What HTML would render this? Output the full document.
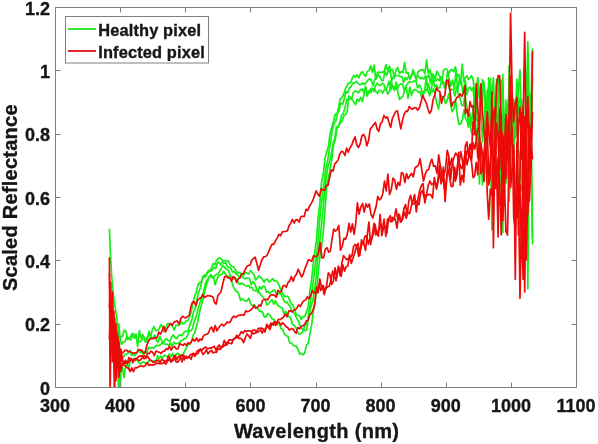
<!DOCTYPE html>
<html><head><meta charset="utf-8"><style>
html,body{margin:0;padding:0;background:#fff;width:598px;height:444px;overflow:hidden}
svg{display:block}
text{font-family:"Liberation Sans",sans-serif;font-weight:bold;fill:#161616;stroke:#161616;stroke-width:0.35px}
.t{filter:grayscale(1)}
</style></head><body>
<svg width="598" height="444" viewBox="0 0 598 444">
<rect width="598" height="444" fill="#fff"/>
<defs><clipPath id="c"><rect x="55" y="7" width="522" height="381"/></clipPath></defs>
<g clip-path="url(#c)">
<polyline points="109.4,228.7 110.4,254.0 111.7,276.2 113.0,292.0 114.3,301.5 115.6,311.0 116.9,317.3 117.8,355.3 118.8,323.7 120.1,339.5 121.8,344.2 123.5,341.8 125.2,341.5 126.9,336.0 128.6,338.6 130.3,336.9 132.0,333.6 133.7,333.7 135.4,335.6 137.1,340.0 138.8,341.4 140.4,341.7 142.1,339.4 143.8,337.9 145.5,342.2 147.2,340.8 148.9,331.0 150.6,337.2 152.3,329.6 154.0,326.6 155.7,330.6 157.4,330.5 159.1,329.1 160.8,324.6 162.5,326.8 164.1,331.6 165.8,327.5 167.5,323.6 169.2,323.7 170.9,324.5 172.6,326.5 174.3,330.1 176.0,325.1 177.7,325.7 179.4,324.9 181.1,321.5 182.8,323.9 184.5,323.3 186.2,321.2 187.9,320.3 189.5,317.0 191.2,312.1 192.9,303.1 194.6,296.1 196.3,292.1 198.0,284.6 199.7,282.6 201.4,281.7 203.1,276.1 204.8,274.8 206.5,275.2 208.2,270.7 209.9,270.3 211.6,267.9 213.3,263.4 214.9,264.7 216.6,260.1 218.3,258.3 220.0,257.9 221.7,259.8 223.4,260.3 225.1,260.6 226.8,260.9 228.5,261.2 230.2,265.0 231.9,266.6 233.6,266.7 235.3,269.7 237.0,272.7 238.7,272.3 240.3,273.2 242.0,276.3 243.7,274.8 245.4,272.3 247.1,273.2 248.8,274.0 250.5,270.5 252.2,272.5 253.9,274.8 255.6,279.8 257.3,278.2 259.0,276.0 260.7,277.5 262.4,279.1 264.1,282.2 265.7,279.5 267.4,279.2 269.1,282.0 270.8,280.9 272.5,278.6 274.2,280.8 275.9,280.9 277.6,281.9 279.3,286.1 281.0,290.3 282.7,293.8 284.4,296.1 286.1,296.8 287.8,296.2 289.5,299.4 291.1,303.7 292.8,304.8 294.5,309.0 296.2,314.5 297.9,315.3 299.6,315.8 301.3,319.4 303.0,316.5 304.7,316.7 306.4,311.7 308.1,307.3 309.8,291.9 311.5,280.7 313.2,264.6 314.8,252.2 316.5,239.8 318.2,217.4 319.9,202.9 321.6,181.9 323.3,173.5 325.0,158.1 326.7,151.7 328.4,146.3 330.1,133.5 331.8,127.2 333.5,121.8 335.2,114.3 336.9,113.7 338.6,107.7 340.2,98.7 341.9,97.9 343.6,94.4 345.3,89.2 347.0,85.8 348.7,82.9 350.4,83.0 352.1,78.6 353.8,75.4 355.5,77.3 357.2,74.6 358.9,77.9 360.6,73.3 362.3,71.6 364.0,74.3 365.6,76.4 367.3,71.3 369.0,70.7 370.7,65.8 372.4,72.2 374.1,65.2 375.8,79.2 377.5,72.0 379.2,72.6 380.9,72.2 382.6,72.6 384.3,70.8 386.0,64.9 387.7,70.9 389.4,66.2 391.0,70.5 392.7,69.6 394.4,78.1 396.1,69.5 397.8,67.5 399.5,73.4 401.2,71.6 402.9,72.5 404.6,62.4 406.3,73.2 408.0,72.4 409.7,79.4 411.4,75.6 413.1,69.5 414.8,74.9 416.4,80.4 418.1,71.7 419.8,70.4 421.5,69.9 423.2,69.6 424.9,73.6 426.6,59.8 428.3,73.7 430.0,69.7 431.7,77.2 433.4,74.6 435.1,78.9 436.8,71.2 438.5,74.2 440.1,77.2 441.8,82.3 443.5,70.1 445.2,68.9 446.9,69.0 448.6,74.0 450.3,70.3 452.0,69.4 453.7,71.8 455.4,67.0 457.1,76.1 458.8,74.4 460.5,84.5 462.2,64.1 463.9,82.1 465.3,77.7 466.9,75.7 468.4,79.4 470.0,78.1 471.5,75.7 473.1,79.4 474.7,92.8 476.2,120.7 477.8,84.1 479.4,97.2 480.9,101.6 482.5,79.7 484.0,83.0 485.6,135.6 487.2,90.0 488.7,105.7 490.3,78.5 491.9,98.4 493.4,77.8 495.0,121.3 496.5,113.6 498.1,119.9 499.7,107.8 501.2,111.0 502.8,74.3 504.4,143.1 505.9,100.2 507.5,152.6 509.1,165.1 510.6,130.5 512.2,169.8 513.7,99.3 515.3,137.9 516.9,129.7 518.4,90.2 520.0,69.9 521.6,130.8 523.1,195.1 524.7,125.6 526.2,108.1 527.8,41.8 529.4,110.1 530.9,149.4 532.5,77.5" fill="none" stroke="#14ee14" stroke-width="1.7" stroke-linejoin="round"/>
<polyline points="110.0,292.0 111.0,317.3 112.3,304.7 113.6,330.0 114.9,323.7 116.2,349.0 117.5,336.3 118.5,393.3 119.5,342.7 120.8,336.3 122.5,336.4 124.2,330.3 125.9,331.2 127.5,339.6 129.2,338.8 130.9,340.1 132.6,335.1 134.3,338.2 136.0,334.4 137.7,346.7 139.4,330.5 141.1,338.4 142.8,334.7 144.5,338.6 146.2,339.7 147.9,335.7 149.6,334.2 151.3,338.4 152.9,338.0 154.6,335.0 156.3,340.1 158.0,342.2 159.7,336.5 161.4,339.8 163.1,343.3 164.8,340.0 166.5,338.8 168.2,340.5 169.9,341.1 171.6,337.1 173.3,335.0 175.0,337.6 176.7,338.7 178.3,336.1 180.0,334.7 181.7,335.8 183.4,333.2 185.1,331.3 186.8,331.3 188.5,329.8 190.2,323.7 191.9,319.6 193.6,311.7 195.3,308.6 197.0,299.4 198.7,292.0 200.4,287.7 202.1,280.0 203.7,276.9 205.4,276.9 207.1,272.3 208.8,272.1 210.5,271.1 212.2,270.0 213.9,267.4 215.6,268.7 217.3,263.3 219.0,262.1 220.7,265.1 222.4,261.6 224.1,263.2 225.8,262.8 227.5,266.5 229.1,267.5 230.8,268.4 232.5,272.0 234.2,271.5 235.9,274.1 237.6,274.5 239.3,277.4 241.0,275.6 242.7,276.9 244.4,278.8 246.1,278.2 247.8,278.2 249.5,278.5 251.2,284.6 252.8,281.4 254.5,283.4 256.2,287.5 257.9,292.9 259.6,286.5 261.3,289.0 263.0,286.3 264.7,286.3 266.4,292.2 268.1,291.4 269.8,293.8 271.5,291.8 273.2,290.3 274.9,290.1 276.6,296.1 278.2,293.5 279.9,293.4 281.6,295.3 283.3,298.9 285.0,302.4 286.7,302.1 288.4,304.1 290.1,306.7 291.8,310.2 293.5,312.2 295.2,315.2 296.9,318.3 298.6,321.4 300.3,326.8 302.0,329.0 303.6,329.3 305.3,330.8 307.0,329.1 308.7,312.4 310.4,302.2 312.1,289.5 313.8,277.3 315.5,263.3 317.2,250.8 318.9,230.5 320.6,209.8 322.3,197.7 324.0,183.3 325.7,169.0 327.4,162.2 329.0,151.4 330.7,141.1 332.4,129.5 334.1,123.3 335.8,121.3 337.5,113.5 339.2,110.1 340.9,103.1 342.6,104.2 344.3,98.7 346.0,91.5 347.7,92.8 349.4,88.3 351.1,86.6 352.8,83.2 354.4,83.2 356.1,81.3 357.8,83.3 359.5,84.6 361.2,84.3 362.9,83.0 364.6,84.7 366.3,82.2 368.0,80.1 369.7,78.7 371.4,80.6 373.1,85.9 374.8,79.2 376.5,78.0 378.2,74.8 379.8,76.3 381.5,80.4 383.2,80.6 384.9,71.0 386.6,75.3 388.3,71.5 390.0,70.4 391.7,80.6 393.4,76.3 395.1,76.0 396.8,75.5 398.5,75.5 400.2,76.6 401.9,76.6 403.5,82.4 405.2,77.6 406.9,79.6 408.6,76.4 410.3,78.4 412.0,74.6 413.7,73.8 415.4,75.7 417.1,75.7 418.8,76.6 420.5,78.7 422.2,77.7 423.9,79.2 425.6,75.7 427.3,77.3 428.9,75.0 430.6,83.3 432.3,73.7 434.0,81.1 435.7,81.1 437.4,78.8 439.1,80.6 440.8,76.6 442.5,80.9 444.2,83.5 445.9,82.6 447.6,72.0 449.3,79.0 451.0,86.0 452.7,80.2 454.3,89.3 456.0,71.3 457.7,90.4 459.4,79.5 461.1,79.6 462.8,92.7 464.5,84.8 465.3,80.6 466.9,94.6 468.4,88.1 470.0,87.2 471.5,90.4 473.1,87.8 474.7,107.5 476.2,92.7 477.8,77.7 479.4,91.9 480.9,119.1 482.5,95.6 484.0,83.0 485.6,100.9 487.2,124.7 488.7,77.8 490.3,148.1 491.9,98.2 493.4,112.0 495.0,152.5 496.5,79.3 498.1,103.1 499.7,157.5 501.2,95.7 502.8,132.1 504.4,193.8 505.9,144.6 507.5,107.8 509.1,95.7 510.6,112.1 512.2,116.5 513.7,102.0 515.3,127.6 516.9,79.0 518.4,113.6 520.0,108.6 521.6,99.9 523.1,167.3 524.7,152.1 526.2,74.2 527.8,288.8 529.4,133.6 530.9,107.8 532.5,48.2" fill="none" stroke="#14ee14" stroke-width="1.7" stroke-linejoin="round"/>
<polyline points="110.4,317.3 111.7,339.5 113.0,323.7 114.3,349.0 115.6,339.5 116.9,361.7 118.2,349.0 119.5,371.2 120.1,393.3 121.4,358.5 123.1,357.5 124.8,354.5 126.5,354.1 128.2,353.1 129.9,350.4 131.6,355.6 133.3,354.3 135.0,355.5 136.7,353.0 138.4,350.8 140.1,352.5 141.7,351.2 143.4,355.4 145.1,351.1 146.8,352.7 148.5,347.3 150.2,348.6 151.9,347.5 153.6,348.3 155.3,346.2 157.0,345.2 158.7,345.7 160.4,344.7 162.1,342.8 163.8,343.7 165.5,344.2 167.1,344.1 168.8,345.3 170.5,342.8 172.2,346.4 173.9,342.1 175.6,344.0 177.3,343.1 179.0,343.6 180.7,340.9 182.4,340.3 184.1,338.6 185.8,338.3 187.5,335.6 189.2,330.9 190.9,330.7 192.5,328.6 194.2,321.3 195.9,317.6 197.6,310.7 199.3,304.4 201.0,299.4 202.7,295.8 204.4,287.5 206.1,281.6 207.8,279.0 209.5,276.4 211.2,274.7 212.9,277.8 214.6,275.8 216.2,274.4 217.9,274.2 219.6,271.4 221.3,268.7 223.0,265.4 224.7,267.5 226.4,269.0 228.1,269.7 229.8,273.9 231.5,277.4 233.2,278.6 234.9,278.2 236.6,279.4 238.3,283.2 240.0,284.4 241.6,283.0 243.3,283.9 245.0,285.5 246.7,286.0 248.4,285.7 250.1,287.8 251.8,287.2 253.5,290.1 255.2,290.9 256.9,289.6 258.6,291.2 260.3,294.1 262.0,296.0 263.7,298.0 265.4,300.2 267.0,304.9 268.7,303.8 270.4,300.8 272.1,299.8 273.8,304.1 275.5,300.8 277.2,304.9 278.9,306.2 280.6,307.2 282.3,308.2 284.0,313.5 285.7,311.4 287.4,314.0 289.1,316.7 290.8,318.2 292.4,324.3 294.1,325.4 295.8,327.5 297.5,331.9 299.2,334.3 300.9,333.4 302.6,332.2 304.3,326.8 306.0,324.6 307.7,320.1 309.4,313.7 311.1,306.1 312.8,301.3 314.5,288.8 316.2,277.1 317.8,256.5 319.5,243.8 321.2,228.2 322.9,210.9 324.6,192.2 326.3,177.0 328.0,166.3 329.7,161.0 331.4,153.5 333.1,143.1 334.8,138.2 336.5,126.5 338.2,127.5 339.9,121.7 341.6,115.2 343.2,113.8 344.9,108.6 346.6,99.6 348.3,100.2 350.0,98.7 351.7,98.4 353.4,92.4 355.1,91.0 356.8,91.5 358.5,92.8 360.2,90.0 361.9,89.0 363.6,92.0 365.3,87.0 366.9,96.2 368.6,93.0 370.3,89.2 372.0,88.2 373.7,91.6 375.4,86.0 377.1,83.2 378.8,85.0 380.5,85.4 382.2,83.2 383.9,84.6 385.6,89.9 387.3,86.5 389.0,81.3 390.7,89.6 392.3,85.4 394.0,86.9 395.7,88.6 397.4,88.9 399.1,84.9 400.8,84.1 402.5,84.0 404.2,90.1 405.9,85.9 407.6,83.7 409.3,81.5 411.0,82.3 412.7,81.7 414.4,80.8 416.1,81.9 417.7,88.0 419.4,85.0 421.1,88.1 422.8,94.9 424.5,92.5 426.2,77.3 427.9,90.7 429.6,95.8 431.3,88.9 433.0,79.7 434.7,86.9 436.4,85.0 438.1,88.3 439.8,87.6 441.5,81.2 443.1,83.6 444.8,88.1 446.5,83.6 448.2,83.4 449.9,90.9 451.6,89.2 453.3,90.0 455.0,95.9 456.7,86.6 458.4,94.8 460.1,98.3 461.8,105.3 463.5,105.6 465.2,91.8 465.3,98.1 466.9,106.8 468.4,127.3 470.0,113.4 471.5,124.7 473.1,107.7 474.7,96.4 476.2,114.3 477.8,89.5 479.4,96.4 480.9,109.6 482.5,142.5 484.0,119.6 485.6,159.4 487.2,99.6 488.7,120.1 490.3,89.9 491.9,116.2 493.4,186.2 495.0,106.5 496.5,98.3 498.1,78.7 499.7,160.6 501.2,160.2 502.8,123.9 504.4,168.7 505.9,183.0 507.5,172.3 509.1,66.2 510.6,154.8 512.2,172.0 513.7,148.4 515.3,130.4 516.9,85.5 518.4,97.6 520.0,103.1 521.6,129.9 523.1,126.0 524.7,160.0 526.2,200.3 527.8,71.8 529.4,152.8 530.9,94.7 532.5,244.5" fill="none" stroke="#14ee14" stroke-width="1.7" stroke-linejoin="round"/>
<polyline points="110.7,330.0 112.3,355.3 113.6,342.7 114.9,368.0 116.2,355.3 117.5,377.5 118.8,361.7 120.1,374.3 122.1,364.8 124.0,377.5 125.3,368.0 127.0,362.2 128.7,369.3 130.4,359.3 132.1,360.3 133.8,358.5 135.5,360.8 137.2,358.7 138.9,362.7 140.6,364.2 142.3,362.0 144.0,362.1 145.7,363.5 147.3,363.1 149.0,360.9 150.7,360.2 152.4,361.6 154.1,360.6 155.8,362.3 157.5,355.6 159.2,358.9 160.9,356.2 162.6,357.8 164.3,355.2 166.0,355.8 167.7,356.9 169.4,354.0 171.1,357.2 172.7,353.2 174.4,357.6 176.1,354.5 177.8,353.2 179.5,354.5 181.2,355.3 182.9,354.4 184.6,351.8 186.3,347.4 188.0,345.2 189.7,343.8 191.4,341.8 193.1,335.3 194.8,333.1 196.5,326.2 198.1,320.1 199.8,310.9 201.5,304.8 203.2,297.6 204.9,290.9 206.6,284.2 208.3,279.4 210.0,275.5 211.7,277.5 213.4,276.6 215.1,284.7 216.8,279.6 218.5,276.1 220.2,274.7 221.9,274.4 223.5,271.3 225.2,273.8 226.9,275.4 228.6,277.2 230.3,275.8 232.0,282.2 233.7,287.6 235.4,290.5 237.1,291.5 238.8,294.0 240.5,300.3 242.2,298.8 243.9,300.1 245.6,301.3 247.2,300.7 248.9,298.2 250.6,303.4 252.3,305.7 254.0,304.7 255.7,306.9 257.4,308.1 259.1,310.9 260.8,311.4 262.5,312.1 264.2,316.8 265.9,317.2 267.6,313.7 269.3,314.5 271.0,317.1 272.6,319.4 274.3,319.7 276.0,323.6 277.7,324.6 279.4,323.9 281.1,328.7 282.8,329.5 284.5,334.2 286.2,335.7 287.9,336.2 289.6,342.6 291.3,343.1 293.0,344.8 294.7,346.2 296.4,346.2 298.0,349.6 299.7,354.1 301.4,353.3 303.1,354.9 304.8,353.0 306.5,344.7 308.2,343.8 309.9,333.8 311.6,325.4 313.3,312.2 315.0,301.7 316.7,289.5 318.4,271.0 320.1,254.5 321.8,245.1 323.4,230.6 325.1,209.8 326.8,185.1 328.5,177.6 330.2,168.7 331.9,158.7 333.6,143.8 335.3,139.7 337.0,128.1 338.7,125.5 340.4,123.1 342.1,120.7 343.8,116.0 345.5,114.6 347.2,111.9 348.8,96.0 350.5,97.5 352.2,99.7 353.9,102.0 355.6,104.7 357.3,99.0 359.0,101.1 360.7,97.3 362.4,101.7 364.1,94.1 365.8,87.0 367.5,94.7 369.2,90.5 370.9,92.8 372.5,88.7 374.2,88.5 375.9,91.7 377.6,93.5 379.3,90.2 381.0,90.8 382.7,93.1 384.4,89.3 386.1,89.4 387.8,94.0 389.5,91.3 391.2,80.7 392.9,88.1 394.6,90.6 396.3,82.2 397.9,92.5 399.6,99.5 401.3,97.6 403.0,96.2 404.7,90.0 406.4,87.5 408.1,98.5 409.8,87.0 411.5,95.2 413.2,90.0 414.9,89.7 416.6,90.2 418.3,92.1 420.0,91.9 421.7,97.4 423.3,92.3 425.0,89.8 426.7,90.4 428.4,83.6 430.1,90.4 431.8,92.3 433.5,88.6 435.2,95.8 436.9,103.7 438.6,109.1 440.3,93.2 442.0,97.4 443.7,96.8 445.4,103.5 447.1,101.0 448.7,93.9 450.4,103.0 452.1,111.7 453.8,109.1 455.5,100.0 457.2,114.8 458.9,124.4 460.6,123.9 462.3,119.8 464.0,110.1 465.3,117.9 466.9,120.8 468.4,125.4 470.0,120.8 471.5,133.0 473.1,135.1 474.7,132.2 476.2,135.4 477.8,118.5 479.4,184.0 480.9,144.2 482.5,184.9 484.0,152.4 485.6,135.4 487.2,141.5 488.7,119.6 490.3,135.1 491.9,229.9 493.4,181.0 495.0,102.7 496.5,101.7 498.1,143.3 499.7,205.5 501.2,80.3 502.8,232.6 504.4,138.9 505.9,152.3 507.5,142.3 509.1,201.2 510.6,169.5 512.2,115.3 513.7,174.4 515.3,213.7 516.9,154.6 518.4,150.3 520.0,160.6 521.6,190.4 523.1,134.7 524.7,161.1 526.2,209.7 527.8,146.9 529.4,157.5 530.9,150.1 532.5,237.2" fill="none" stroke="#14ee14" stroke-width="1.7" stroke-linejoin="round"/>
<polyline points="109.4,257.2 110.1,396.5 111.3,298.3 113.0,342.7 114.6,317.3 116.2,355.3 117.8,336.3 119.5,358.5 121.4,352.2 123.1,352.7 124.8,350.5 126.5,350.2 128.2,351.7 129.9,351.4 131.6,352.6 133.3,353.1 135.0,352.9 136.7,352.8 138.4,349.4 140.1,350.1 141.7,350.1 143.4,352.6 145.1,353.1 146.8,345.3 148.5,341.2 150.2,338.5 151.9,338.6 153.6,338.6 155.3,337.6 157.0,337.8 158.7,332.1 160.4,334.2 162.1,330.9 163.8,326.3 165.5,331.9 167.1,328.5 168.8,325.9 170.5,323.4 172.2,325.4 173.9,322.3 175.6,321.6 177.3,320.8 179.0,324.3 180.7,318.8 182.4,316.3 184.1,317.2 185.8,318.0 187.5,316.4 189.2,315.6 190.9,306.7 192.5,302.1 194.2,301.7 195.9,305.7 197.6,300.1 199.3,298.5 201.0,297.9 202.7,294.3 204.4,297.6 206.1,296.5 207.8,295.5 209.5,295.8 211.2,296.2 212.9,297.0 214.6,302.6 216.2,304.0 217.9,295.5 219.6,293.6 221.3,290.6 223.0,282.8 224.7,276.5 226.4,276.4 228.1,277.9 229.8,277.8 231.5,281.1 233.2,276.5 234.9,277.7 236.6,282.4 238.3,278.8 240.0,277.9 241.6,273.7 243.3,273.8 245.0,270.0 246.7,266.6 248.4,265.6 250.1,265.0 251.8,260.1 253.5,258.5 255.2,257.2 256.9,263.6 258.6,270.3 260.3,264.7 262.0,259.5 263.7,256.9 265.4,256.6 267.0,255.3 268.7,251.5 270.4,247.6 272.1,244.1 273.8,244.3 275.5,240.7 277.2,238.1 278.9,234.3 280.6,235.7 282.3,231.8 284.0,231.5 285.7,231.5 287.4,230.9 289.1,225.4 290.8,223.2 292.4,219.4 294.1,223.0 295.8,219.9 297.5,219.7 299.2,222.0 300.9,216.5 302.6,216.4 304.3,216.3 306.0,209.3 307.7,210.5 309.4,206.4 311.1,203.8 312.8,200.4 314.5,195.4 316.2,190.8 317.8,194.1 319.5,196.2 321.2,188.6 322.9,190.0 324.6,190.2 326.3,185.3 328.0,185.5 329.7,177.1 331.4,169.9 333.1,171.0 334.8,163.6 336.5,162.3 338.2,159.6 339.9,153.7 341.6,151.3 343.2,152.0 344.9,155.5 346.6,148.2 348.3,152.1 350.0,147.7 351.7,145.3 353.4,140.4 355.1,136.8 356.8,145.0 358.5,147.4 360.2,143.6 361.9,135.8 363.6,134.3 365.3,137.8 366.9,145.8 368.6,140.4 370.3,128.8 372.0,127.0 373.7,124.7 375.4,122.4 377.1,129.0 378.8,131.4 380.5,123.7 382.2,121.9 383.9,115.4 385.6,118.1 387.3,116.8 389.0,122.5 390.7,127.4 392.3,118.7 394.0,115.1 395.7,111.5 397.4,110.8 399.1,119.9 400.8,128.9 402.5,120.4 404.2,114.1 405.9,111.1 407.6,111.3 409.3,106.5 411.0,108.5 412.7,109.1 414.4,107.8 416.1,107.6 417.7,110.3 419.4,107.8 421.1,101.8 422.8,95.4 424.5,99.5 426.2,102.8 427.9,108.7 429.6,113.4 431.3,110.7 433.0,100.3 434.7,95.0 436.4,87.9 438.1,90.4 439.8,91.7 441.5,103.3 443.1,96.9 444.8,95.7 446.5,81.0 448.2,80.0 449.9,90.0 451.6,106.5 453.3,102.2 455.0,101.7 456.7,97.3 458.4,97.0 460.1,93.8 461.8,96.5 463.5,92.9 465.2,85.6 465.3,113.5 466.9,109.6 468.4,116.1 470.0,101.5 471.5,106.9 473.1,105.8 474.7,134.5 476.2,83.5 477.8,109.0 479.4,131.2 480.9,83.8 482.5,111.3 484.0,130.9 485.6,143.2 487.2,111.9 488.7,132.3 490.3,145.0 491.9,116.1 493.4,247.7 495.0,134.0 496.5,85.4 498.1,75.7 499.7,75.8 501.2,131.0 502.8,138.1 504.4,185.2 505.9,128.6 507.5,160.1 509.1,110.6 510.6,13.3 512.2,95.0 513.7,121.6 515.3,102.5 516.9,97.4 518.4,234.8 520.0,169.9 521.6,112.6 523.1,123.2 524.7,32.3 526.2,148.7 527.8,96.7 529.4,148.6 530.9,139.4 532.5,159.4" fill="none" stroke="#ee0a0a" stroke-width="1.7" stroke-linejoin="round"/>
<polyline points="109.4,273.0 111.0,330.0 112.6,292.0 114.5,396.5 115.9,323.7 117.5,368.0 119.1,342.7 120.8,371.2 122.1,364.8 123.8,363.1 125.5,360.2 127.2,363.7 128.9,357.5 130.5,359.1 132.2,359.8 133.9,359.5 135.6,359.6 137.3,358.0 139.0,356.2 140.7,356.2 142.4,355.8 144.1,358.8 145.8,358.3 147.5,353.3 149.2,353.7 150.9,351.2 152.6,352.2 154.3,355.6 155.9,351.0 157.6,351.8 159.3,352.1 161.0,353.5 162.7,351.4 164.4,351.2 166.1,348.6 167.8,349.6 169.5,346.1 171.2,350.2 172.9,347.2 174.6,346.6 176.3,348.9 178.0,349.0 179.6,343.9 181.3,344.4 183.0,345.3 184.7,343.6 186.4,345.3 188.1,342.7 189.8,343.9 191.5,341.4 193.2,339.0 194.9,341.2 196.6,337.9 198.3,341.4 200.0,338.9 201.7,340.2 203.4,336.2 205.0,334.7 206.7,334.2 208.4,333.2 210.1,328.5 211.8,327.2 213.5,332.0 215.2,325.6 216.9,330.9 218.6,327.8 220.3,325.7 222.0,324.2 223.7,326.0 225.4,324.4 227.1,321.9 228.8,322.7 230.4,321.8 232.1,317.8 233.8,316.2 235.5,317.4 237.2,316.2 238.9,315.2 240.6,315.2 242.3,314.7 244.0,315.2 245.7,310.8 247.4,311.8 249.1,311.2 250.8,309.8 252.5,308.4 254.2,305.5 255.8,308.2 257.5,307.4 259.2,304.9 260.9,306.1 262.6,300.3 264.3,299.8 266.0,299.2 267.7,299.8 269.4,296.7 271.1,294.8 272.8,294.9 274.5,295.4 276.2,297.3 277.9,290.3 279.6,291.9 281.2,291.7 282.9,286.0 284.6,285.3 286.3,287.3 288.0,282.5 289.7,281.0 291.4,276.5 293.1,281.3 294.8,276.4 296.5,274.3 298.2,269.2 299.9,273.2 301.6,277.0 303.3,274.0 304.9,268.6 306.6,264.7 308.3,259.9 310.0,260.2 311.7,261.2 313.4,255.9 315.1,256.4 316.8,256.4 318.5,253.3 320.2,242.5 321.9,257.9 323.6,257.6 325.3,249.1 327.0,247.7 328.7,252.1 330.3,251.3 332.0,239.1 333.7,229.1 335.4,231.1 337.1,229.8 338.8,225.5 340.5,250.1 342.2,246.5 343.9,238.4 345.6,239.1 347.3,234.4 349.0,223.4 350.7,232.0 352.4,223.9 354.1,234.3 355.7,223.5 357.4,202.8 359.1,214.1 360.8,207.0 362.5,203.5 364.2,212.1 365.9,203.9 367.6,207.2 369.3,203.9 371.0,214.3 372.7,218.0 374.4,212.3 376.1,206.6 377.8,196.4 379.5,199.9 381.1,198.4 382.8,193.7 384.5,181.0 386.2,190.8 387.9,174.1 389.6,194.6 391.3,189.4 393.0,178.1 394.7,180.1 396.4,189.3 398.1,182.3 399.8,185.6 401.5,172.5 403.2,173.7 404.9,182.6 406.5,173.5 408.2,178.6 409.9,175.6 411.6,173.5 413.3,176.9 415.0,168.0 416.7,166.5 418.4,165.4 420.1,158.7 421.8,169.8 423.5,181.1 425.2,174.4 426.9,170.0 428.6,169.6 430.3,163.0 431.9,159.2 433.6,166.2 435.3,165.8 437.0,173.4 438.7,154.8 440.4,166.3 442.1,174.1 443.8,175.0 445.5,168.9 447.2,150.3 448.9,156.5 450.6,179.4 452.3,162.8 454.0,157.7 455.6,153.1 457.3,155.0 459.0,164.2 460.7,151.7 462.4,160.0 464.1,176.2 465.3,156.8 466.9,151.1 468.4,151.9 470.0,157.4 471.5,160.5 473.1,142.6 474.7,149.1 476.2,141.0 477.8,129.0 479.4,127.5 480.9,173.8 482.5,168.8 484.0,153.4 485.6,143.6 487.2,123.8 488.7,178.2 490.3,162.2 491.9,141.2 493.4,113.2 495.0,107.9 496.5,187.7 498.1,157.9 499.7,182.8 501.2,235.0 502.8,135.3 504.4,166.9 505.9,178.8 507.5,141.2 509.1,116.7 510.6,187.7 512.2,168.1 513.7,149.7 515.3,279.3 516.9,142.5 518.4,203.2 520.0,184.9 521.6,258.0 523.1,155.6 524.7,116.7 526.2,260.0 527.8,190.9 529.4,124.6 530.9,168.2 532.5,51.3" fill="none" stroke="#ee0a0a" stroke-width="1.7" stroke-linejoin="round"/>
<polyline points="109.4,307.8 110.7,282.5 112.3,349.0 113.9,311.0 115.6,371.2 117.2,333.2 118.8,377.5 120.8,355.3 122.7,361.7 124.4,363.4 126.1,362.9 127.8,362.8 129.5,361.7 131.2,358.5 132.9,362.6 134.6,358.8 136.3,358.2 138.0,360.3 139.7,360.6 141.4,358.7 143.0,357.5 144.7,355.9 146.4,357.6 148.1,356.8 149.8,360.0 151.5,360.8 153.2,362.4 154.9,361.8 156.6,360.8 158.3,360.1 160.0,362.8 161.7,359.2 163.4,360.4 165.1,361.1 166.8,361.0 168.4,356.2 170.1,359.0 171.8,360.5 173.5,360.3 175.2,355.5 176.9,359.4 178.6,356.3 180.3,355.7 182.0,361.9 183.7,355.4 185.4,357.5 187.1,358.4 188.8,356.9 190.5,354.4 192.2,354.1 193.8,353.4 195.5,354.9 197.2,350.9 198.9,350.0 200.6,348.9 202.3,349.9 204.0,347.9 205.7,347.0 207.4,349.0 209.1,348.2 210.8,348.1 212.5,347.4 214.2,346.2 215.9,350.0 217.6,347.0 219.2,344.9 220.9,348.5 222.6,346.5 224.3,340.3 226.0,344.0 227.7,342.0 229.4,339.6 231.1,340.2 232.8,340.0 234.5,338.6 236.2,337.6 237.9,337.1 239.6,334.9 241.3,331.7 243.0,333.4 244.6,330.6 246.3,331.6 248.0,330.9 249.7,330.8 251.4,331.9 253.1,330.2 254.8,330.0 256.5,332.0 258.2,328.4 259.9,328.3 261.6,328.1 263.3,329.1 265.0,332.1 266.7,324.4 268.3,326.4 270.0,329.5 271.7,323.8 273.4,325.2 275.1,321.9 276.8,322.3 278.5,319.2 280.2,319.7 281.9,318.2 283.6,317.1 285.3,313.8 287.0,316.8 288.7,311.2 290.4,310.8 292.1,312.0 293.7,310.0 295.4,309.7 297.1,307.8 298.8,304.9 300.5,306.4 302.2,302.5 303.9,300.8 305.6,300.0 307.3,297.0 309.0,298.5 310.7,295.4 312.4,290.5 314.1,293.0 315.8,292.3 317.5,289.8 319.1,284.4 320.8,290.5 322.5,286.5 324.2,294.6 325.9,288.6 327.6,286.8 329.3,286.2 331.0,280.1 332.7,271.2 334.4,276.4 336.1,280.7 337.8,269.1 339.5,267.9 341.2,276.3 342.9,264.9 344.5,271.1 346.2,266.8 347.9,265.9 349.6,254.5 351.3,263.3 353.0,258.3 354.7,253.3 356.4,246.1 358.1,243.4 359.8,255.5 361.5,239.8 363.2,243.8 364.9,236.4 366.6,235.7 368.3,244.1 369.9,238.8 371.6,239.4 373.3,233.8 375.0,224.3 376.7,233.1 378.4,236.2 380.1,214.6 381.8,235.6 383.5,227.9 385.2,226.6 386.9,233.2 388.6,218.8 390.3,215.7 392.0,221.6 393.7,219.3 395.3,219.4 397.0,228.1 398.7,214.0 400.4,222.1 402.1,219.0 403.8,209.1 405.5,204.5 407.2,214.6 408.9,200.6 410.6,195.3 412.3,203.9 414.0,203.9 415.7,200.5 417.4,203.0 419.0,204.6 420.7,192.7 422.4,190.5 424.1,197.6 425.8,195.3 427.5,195.3 429.2,194.3 430.9,194.9 432.6,198.0 434.3,177.5 436.0,186.4 437.7,181.7 439.4,165.8 441.1,183.8 442.8,173.5 444.4,189.4 446.1,182.0 447.8,168.9 449.5,176.6 451.2,186.5 452.9,186.4 454.6,167.3 456.3,178.4 458.0,161.2 459.7,163.9 461.4,168.7 463.1,165.1 464.8,155.5 465.3,151.1 466.9,164.7 468.4,158.4 470.0,152.3 471.5,161.6 473.1,177.7 474.7,176.0 476.2,162.4 477.8,174.7 479.4,136.9 480.9,154.0 482.5,155.0 484.0,181.6 485.6,142.6 487.2,165.7 488.7,185.2 490.3,176.6 491.9,92.0 493.4,177.8 495.0,188.3 496.5,123.1 498.1,135.1 499.7,169.6 501.2,113.7 502.8,220.4 504.4,180.1 505.9,231.1 507.5,235.0 509.1,159.1 510.6,76.1 512.2,145.3 513.7,145.3 515.3,214.5 516.9,218.0 518.4,187.4 520.0,298.3 521.6,215.3 523.1,279.4 524.7,135.9 526.2,134.2 527.8,214.3 529.4,153.6 530.9,127.9 532.5,126.4" fill="none" stroke="#ee0a0a" stroke-width="1.7" stroke-linejoin="round"/>
<polyline points="109.4,339.5 110.7,298.3 112.3,361.7 113.9,323.7 115.9,380.7 117.5,342.7 119.1,374.3 120.8,349.0 123.4,364.8 125.1,365.7 126.8,367.7 128.5,368.3 130.2,371.6 131.8,367.9 133.5,371.7 135.2,367.5 136.9,367.9 138.6,366.8 140.3,366.1 142.0,366.2 143.7,366.6 145.4,365.6 147.1,362.5 148.8,365.3 150.5,364.6 152.2,365.1 153.9,364.6 155.6,364.1 157.2,363.0 158.9,363.6 160.6,363.5 162.3,363.6 164.0,362.1 165.7,364.1 167.4,361.5 169.1,359.1 170.8,362.2 172.5,360.6 174.2,355.5 175.9,361.6 177.6,362.3 179.3,359.9 181.0,355.8 182.6,355.0 184.3,360.0 186.0,356.4 187.7,356.9 189.4,357.4 191.1,359.3 192.8,353.6 194.5,356.4 196.2,353.9 197.9,353.7 199.6,350.1 201.3,350.8 203.0,354.5 204.7,352.6 206.4,349.9 208.0,353.7 209.7,351.6 211.4,350.2 213.1,353.0 214.8,352.0 216.5,352.4 218.2,348.5 219.9,349.6 221.6,346.1 223.3,346.6 225.0,344.9 226.7,345.1 228.4,342.7 230.1,343.3 231.7,343.8 233.4,339.1 235.1,338.5 236.8,335.2 238.5,338.4 240.2,338.2 241.9,339.1 243.6,342.7 245.3,337.7 247.0,334.0 248.7,335.9 250.4,338.3 252.1,332.2 253.8,333.8 255.5,332.9 257.1,332.5 258.8,331.5 260.5,329.9 262.2,333.0 263.9,329.5 265.6,329.2 267.3,325.5 269.0,328.4 270.7,323.0 272.4,324.0 274.1,321.7 275.8,325.3 277.5,322.1 279.2,322.4 280.9,325.1 282.5,322.7 284.2,324.3 285.9,326.5 287.6,327.4 289.3,329.9 291.0,329.0 292.7,328.5 294.4,331.2 296.1,333.3 297.8,327.5 299.5,328.7 301.2,326.8 302.9,325.6 304.6,324.5 306.3,320.8 307.9,320.7 309.6,315.4 311.3,313.6 313.0,310.2 314.7,304.5 316.4,287.2 318.1,292.9 319.8,278.9 321.5,286.9 323.2,285.5 324.9,290.7 326.6,285.8 328.3,272.9 330.0,274.9 331.7,284.3 333.3,281.3 335.0,267.8 336.7,277.5 338.4,266.2 340.1,275.5 341.8,263.5 343.5,255.6 345.2,257.8 346.9,259.6 348.6,258.3 350.3,257.8 352.0,255.5 353.7,246.0 355.4,244.3 357.0,247.4 358.7,256.3 360.4,250.0 362.1,243.2 363.8,243.1 365.5,250.3 367.2,235.9 368.9,222.0 370.6,244.6 372.3,234.8 374.0,223.3 375.7,234.8 377.4,233.4 379.1,228.3 380.8,224.4 382.4,229.3 384.1,219.1 385.8,236.3 387.5,219.0 389.2,219.7 390.9,221.9 392.6,217.4 394.3,218.3 396.0,208.8 397.7,218.8 399.4,214.8 401.1,221.9 402.8,218.9 404.5,211.8 406.2,218.4 407.8,212.3 409.5,213.7 411.2,206.8 412.9,201.3 414.6,194.5 416.3,212.0 418.0,199.2 419.7,190.5 421.4,185.4 423.1,183.7 424.8,202.8 426.5,194.8 428.2,185.4 429.9,181.0 431.6,184.7 433.2,183.4 434.9,182.2 436.6,189.1 438.3,180.0 440.0,173.1 441.7,181.6 443.4,167.1 445.1,201.7 446.8,178.2 448.5,158.5 450.2,164.9 451.9,158.2 453.6,169.4 455.3,181.2 457.0,173.7 458.6,152.3 460.3,185.1 462.0,175.1 463.7,182.1 465.3,146.1 466.9,141.9 468.4,156.1 470.0,144.2 471.5,152.1 473.1,121.9 474.7,129.6 476.2,135.9 477.8,157.2 479.4,159.6 480.9,143.1 482.5,154.6 484.0,160.6 485.6,137.7 487.2,192.8 488.7,219.2 490.3,189.1 491.9,195.6 493.4,158.8 495.0,188.5 496.5,164.1 498.1,237.1 499.7,109.4 501.2,144.5 502.8,195.5 504.4,147.3 505.9,114.8 507.5,128.9 509.1,163.7 510.6,137.5 512.2,127.9 513.7,217.5 515.3,229.5 516.9,190.6 518.4,125.8 520.0,107.3 521.6,159.4 523.1,106.6 524.7,292.0 526.2,169.9 527.8,204.1 529.4,199.9 530.9,165.2 532.5,112.1" fill="none" stroke="#ee0a0a" stroke-width="1.7" stroke-linejoin="round"/>
</g>
<rect x="55.5" y="7.5" width="521.0" height="380.0" fill="none" stroke="#808080" stroke-width="1"/>
<line x1="55.5" y1="387.5" x2="55.5" y2="382.5" stroke="#808080" stroke-width="1"/>
<line x1="55.5" y1="7.5" x2="55.5" y2="12.5" stroke="#808080" stroke-width="1"/>
<line x1="120.5" y1="387.5" x2="120.5" y2="382.5" stroke="#808080" stroke-width="1"/>
<line x1="120.5" y1="7.5" x2="120.5" y2="12.5" stroke="#808080" stroke-width="1"/>
<line x1="185.5" y1="387.5" x2="185.5" y2="382.5" stroke="#808080" stroke-width="1"/>
<line x1="185.5" y1="7.5" x2="185.5" y2="12.5" stroke="#808080" stroke-width="1"/>
<line x1="250.5" y1="387.5" x2="250.5" y2="382.5" stroke="#808080" stroke-width="1"/>
<line x1="250.5" y1="7.5" x2="250.5" y2="12.5" stroke="#808080" stroke-width="1"/>
<line x1="316.5" y1="387.5" x2="316.5" y2="382.5" stroke="#808080" stroke-width="1"/>
<line x1="316.5" y1="7.5" x2="316.5" y2="12.5" stroke="#808080" stroke-width="1"/>
<line x1="381.5" y1="387.5" x2="381.5" y2="382.5" stroke="#808080" stroke-width="1"/>
<line x1="381.5" y1="7.5" x2="381.5" y2="12.5" stroke="#808080" stroke-width="1"/>
<line x1="446.5" y1="387.5" x2="446.5" y2="382.5" stroke="#808080" stroke-width="1"/>
<line x1="446.5" y1="7.5" x2="446.5" y2="12.5" stroke="#808080" stroke-width="1"/>
<line x1="511.5" y1="387.5" x2="511.5" y2="382.5" stroke="#808080" stroke-width="1"/>
<line x1="511.5" y1="7.5" x2="511.5" y2="12.5" stroke="#808080" stroke-width="1"/>
<line x1="576.5" y1="387.5" x2="576.5" y2="382.5" stroke="#808080" stroke-width="1"/>
<line x1="576.5" y1="7.5" x2="576.5" y2="12.5" stroke="#808080" stroke-width="1"/>
<line x1="55.5" y1="387.5" x2="60.5" y2="387.5" stroke="#808080" stroke-width="1"/>
<line x1="576.5" y1="387.5" x2="571.5" y2="387.5" stroke="#808080" stroke-width="1"/>
<line x1="55.5" y1="324.5" x2="60.5" y2="324.5" stroke="#808080" stroke-width="1"/>
<line x1="576.5" y1="324.5" x2="571.5" y2="324.5" stroke="#808080" stroke-width="1"/>
<line x1="55.5" y1="260.5" x2="60.5" y2="260.5" stroke="#808080" stroke-width="1"/>
<line x1="576.5" y1="260.5" x2="571.5" y2="260.5" stroke="#808080" stroke-width="1"/>
<line x1="55.5" y1="197.5" x2="60.5" y2="197.5" stroke="#808080" stroke-width="1"/>
<line x1="576.5" y1="197.5" x2="571.5" y2="197.5" stroke="#808080" stroke-width="1"/>
<line x1="55.5" y1="134.5" x2="60.5" y2="134.5" stroke="#808080" stroke-width="1"/>
<line x1="576.5" y1="134.5" x2="571.5" y2="134.5" stroke="#808080" stroke-width="1"/>
<line x1="55.5" y1="70.5" x2="60.5" y2="70.5" stroke="#808080" stroke-width="1"/>
<line x1="576.5" y1="70.5" x2="571.5" y2="70.5" stroke="#808080" stroke-width="1"/>
<line x1="55.5" y1="7.5" x2="60.5" y2="7.5" stroke="#808080" stroke-width="1"/>
<line x1="576.5" y1="7.5" x2="571.5" y2="7.5" stroke="#808080" stroke-width="1"/>
<g class="t">
<g font-size="18">
<text x="55.0" y="411.6" text-anchor="middle">300</text>
<text x="120.1" y="411.6" text-anchor="middle">400</text>
<text x="185.2" y="411.6" text-anchor="middle">500</text>
<text x="250.4" y="411.6" text-anchor="middle">600</text>
<text x="315.5" y="411.6" text-anchor="middle">700</text>
<text x="380.6" y="411.6" text-anchor="middle">800</text>
<text x="445.8" y="411.6" text-anchor="middle">900</text>
<text x="510.9" y="411.6" text-anchor="middle">1000</text>
<text x="576.0" y="411.6" text-anchor="middle">1100</text>
<text x="50" y="394.6" text-anchor="end">0</text>
<text x="50" y="331.3" text-anchor="end">0.2</text>
<text x="50" y="267.9" text-anchor="end">0.4</text>
<text x="50" y="204.6" text-anchor="end">0.6</text>
<text x="50" y="141.3" text-anchor="end">0.8</text>
<text x="50" y="77.9" text-anchor="end">1</text>
<text x="50" y="14.6" text-anchor="end">1.2</text>
</g>
<text x="316.45" y="437.6" font-size="20" text-anchor="middle" textLength="165.1" lengthAdjust="spacing">Wavelength (nm)</text>
<text transform="translate(16.9,197.75) rotate(-90)" font-size="20" text-anchor="middle" textLength="186.6" lengthAdjust="spacing">Scaled Reflectance</text>
</g>

<rect x="65.5" y="16.5" width="143" height="46.5" fill="#ffffff" stroke="#808080" stroke-width="1"/>
<line x1="68" y1="29" x2="96" y2="29" stroke="#33e633" stroke-width="2"/>
<line x1="68" y1="51" x2="96" y2="51" stroke="#e02828" stroke-width="2"/>
<g class="t">
<text x="98.2" y="36.2" font-size="16.4" textLength="102.8" lengthAdjust="spacing">Healthy pixel</text>
<text x="98.2" y="57.5" font-size="16.4" textLength="106.6" lengthAdjust="spacing">Infected pixel</text>
</g>

</svg>
</body></html>
